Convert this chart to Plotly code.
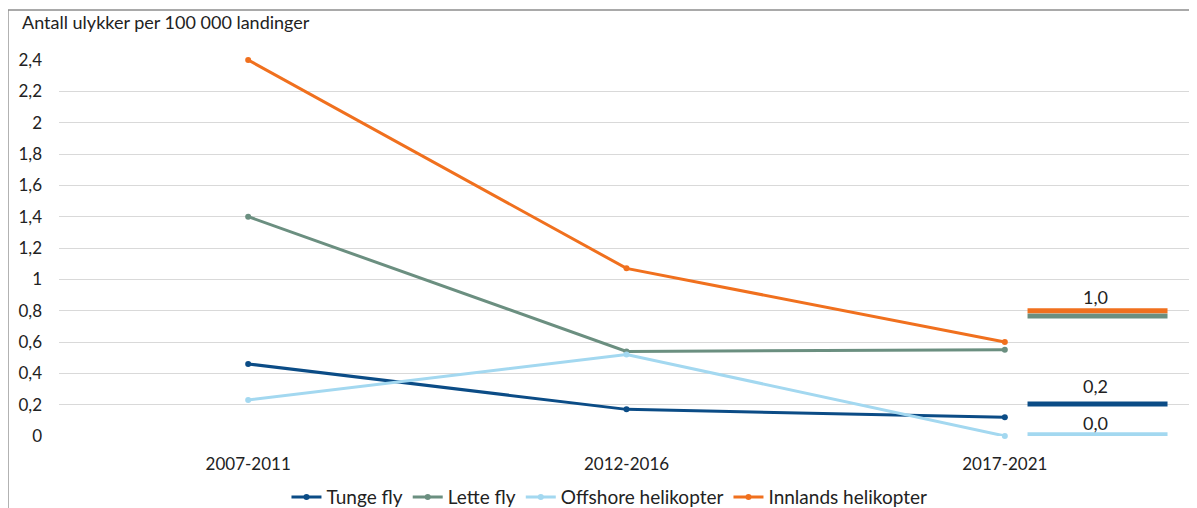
import plotly.graph_objects as go

periods = ["2007-2011", "2012-2016", "2017-2021"]
series_names = ["Tunge fly", "Lette fly", "Offshore helikopter", "Innlands helikopter"]
tunge_fly = [0.46, 0.17, 0.12]
lette_fly = [1.40, 0.54, 0.55]
offshore_heli = [0.23, 0.52, 0.0]
innlands_heli = [2.40, 1.07, 0.60]
series_values = [tunge_fly, lette_fly, offshore_heli, innlands_heli]
colors = ["#0B4C86", "#6B8F80", "#A3D8F0", "#F0701E"]

# target markers drawn to the right of the last period (as in the reference)
target_draw_y = [0.205, 0.766, 0.008, 0.80]   # line heights per series
target_labels = ["0,2", "1,0", "0,0"]
target_label_y = [0.32, 0.89, 0.083]

y_ticks = [round(i * 0.2, 1) for i in range(13)]
y_ticktext = [("%g" % v).replace(".", ",") for v in y_ticks]

FONT = "Lato, Liberation Sans, Arial, sans-serif"

fig = go.Figure()
xi = list(range(len(periods)))
for name, vals, col in zip(series_names, series_values, colors):
    fig.add_trace(go.Scatter(
        x=xi, y=vals, name=name, mode="lines+markers",
        line=dict(color=col, width=3), marker=dict(size=6, color=col),
        cliponaxis=False,
    ))

last = xi[-1]
x0_off, x1_off = 0.06, 0.43
for yv, col in zip(target_draw_y, colors):
    fig.add_trace(go.Scatter(
        x=[last + x0_off, last + x1_off], y=[yv, yv], mode="lines",
        line=dict(color=col, width=5), showlegend=False, hoverinfo="skip",
        cliponaxis=False,
    ))

for txt, yv in zip(target_labels, target_label_y):
    fig.add_annotation(x=last + 0.24, y=yv, text=txt, showarrow=False,
                       font=dict(size=18, color="#222", family=FONT))

fig.add_annotation(xref="paper", yref="paper", x=-0.0344, y=1.1, xanchor="left",
                   yanchor="middle", text="Antall ulykker per 100 000 landinger",
                   showarrow=False, font=dict(size=18, color="#222", family=FONT))

# outer frame (top and left edges visible in reference)
fig.add_shape(type="line", xref="paper", yref="paper", x0=-0.045, x1=1.1,
              y0=1.133, y1=1.133, line=dict(color="#8C8C8C", width=1.5))
fig.add_shape(type="line", xref="paper", yref="paper", x0=-0.045, x1=-0.045,
              y0=1.133, y1=-0.35, line=dict(color="#8C8C8C", width=1.5))

fig.update_layout(
    width=1197, height=508,
    margin=dict(l=51, r=11, t=52, b=80),
    plot_bgcolor="white", paper_bgcolor="white",
    font=dict(family=FONT, size=17, color="#222"),
    showlegend=True,
    legend=dict(orientation="h", x=0.485, xanchor="center",
                yref="container", y=0.037, yanchor="middle",
                font=dict(size=19, family=FONT), tracegroupgap=0),
    xaxis=dict(range=[-0.5, 2.5], tickvals=xi, ticktext=periods, showgrid=False,
               zeroline=False, showline=False, ticks="", ticklabelstandoff=16,
               tickfont=dict(size=17), automargin=False),
    yaxis=dict(range=[0, 2.4], tickvals=y_ticks, ticktext=y_ticktext,
               showgrid=True, gridcolor="#D9D9D9", gridwidth=1, zeroline=False,
               showline=False, ticks="", ticklabelstandoff=16,
               tickfont=dict(size=17), automargin=False),
)
fig.write_html("out.html")
